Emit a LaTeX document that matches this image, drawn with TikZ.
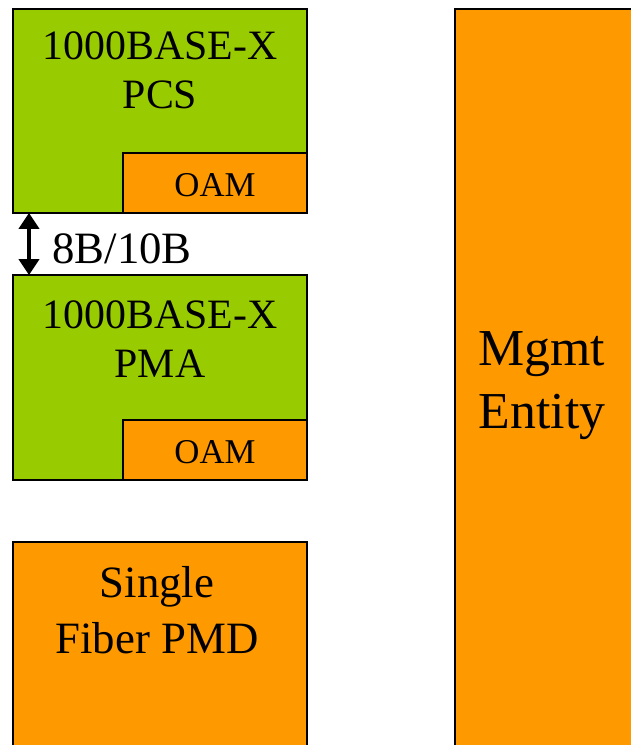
\documentclass[tikz,border=0pt]{standalone}
\usepackage{fontspec}
\setmainfont{Liberation Serif}
\usetikzlibrary{arrows.meta}
\definecolor{pcsgreen}{HTML}{99CC00}
\definecolor{oamorange}{HTML}{FF9900}

\begin{document}
\begin{tikzpicture}[x=0.02cm,y=-0.02cm,
    blk/.style={draw=black,line width=1.6pt},
    lbl/.style={align=center,inner sep=0pt,anchor=base},
    big/.style={font=\fontsize{23.8}{27.8}\selectfont},
    oam/.style={font=\fontsize{19.8}{23}\selectfont}]
    \useasboundingbox (0,0) rectangle (631,745);
    \clip (0,0) rectangle (631,745);
    % PCS
    \filldraw[blk,fill=pcsgreen] (13,9) rectangle (307,213);
    \filldraw[blk,fill=oamorange] (123,153) rectangle (307,213);
    \node[lbl,big] (pcs) at (160,108) {1000BASE-X\\PCS};
    \node[lbl,oam] (pcsoam) at (215,196) {OAM};
    % PMA
    \filldraw[blk,fill=pcsgreen] (13,275) rectangle (307,480);
    \filldraw[blk,fill=oamorange] (123,420) rectangle (307,480);
    \node[lbl,big] (pma) at (160,377) {1000BASE-X\\PMA};
    \node[lbl,oam] (pmaoam) at (215,463) {OAM};
    % 8B/10B
    \coordinate (code top) at (29,213);
    \coordinate (code bot) at (29,275);
    \draw[line width=1.8pt,{Triangle[length=9pt,width=11.5pt]}-{Triangle[length=9pt,width=11.5pt]}] (code top) -- (code bot);
    \node[inner sep=0pt,anchor=base west,font=\fontsize{25.5}{30}\selectfont] (code) at (52,263) {8B/10B};
    % PMD
    \filldraw[blk,fill=oamorange] (13,542) rectangle (307,800);
    \node[lbl,font=\fontsize{25.5}{31.7}\selectfont] (pmd) at (157,653) {Single\\Fiber PMD};
    % Mgmt
    \filldraw[blk,fill=oamorange] (455,9) rectangle (660,800);
    \node[lbl,font=\fontsize{29.5}{35.7}\selectfont] (mgmt) at (542,428) {Mgmt\\Entity};
\end{tikzpicture}
\end{document}
